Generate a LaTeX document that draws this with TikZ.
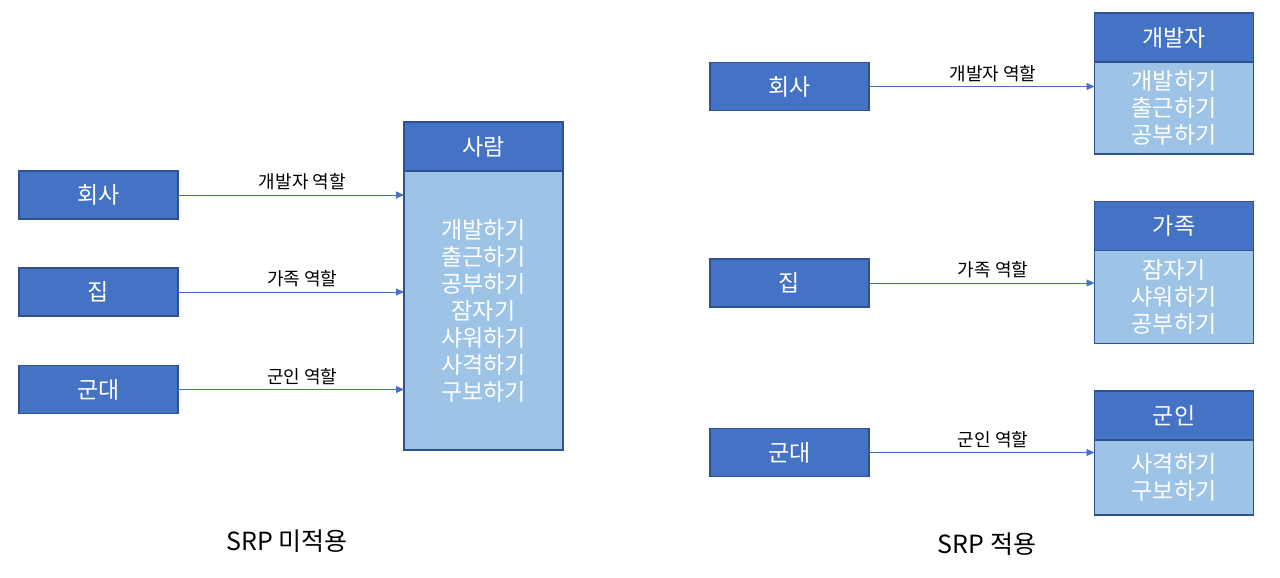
\documentclass[tikz,border=0pt]{standalone}
\usepackage{fontspec}
\setmainfont{Noto Sans CJK KR}
\usetikzlibrary{positioning,arrows.meta}
\definecolor{colhead}{RGB}{68,114,196}
\definecolor{colbody}{RGB}{157,195,230}
\definecolor{colline}{RGB}{47,82,143}
\definecolor{colarrow}{RGB}{68,114,196}
\tikzset{
  srcbox/.style={
    rectangle, fill=colhead, draw=colline, line width=1.3pt,
    minimum width=159pt, minimum height=48pt, inner sep=0pt, outer sep=0pt,
    text=white, font=\fontsize{23}{27}\selectfont
  },
  headbox/.style={srcbox, minimum height=49pt},
  bodybox/.style={
    rectangle, fill=colbody, draw=colline, line width=1.3pt,
    minimum width=159pt, inner sep=0pt, outer sep=0pt, align=center,
    text=white, font=\fontsize{23}{27}\selectfont
  },
  role/.style={draw=colarrow, line width=0.9pt, -{Triangle[length=8pt,width=7pt]}},
  rolelabel/.style={font=\fontsize{18}{20}\selectfont, above=1pt, pos=0.55},
  caption/.style={font=\fontsize{25}{28}\selectfont}
}

\begin{document}
\begin{tikzpicture}[x=1pt,y=-1pt]
  \useasboundingbox (0,0) rectangle (1280,578);

  % SRP not applied
  \foreach \name/\txt/\y in {lhoesa/회사/195,ljip/집/292,lgundae/군대/389.5}
    \node[srcbox] (\name) at (98.5,\y) {\txt};

  \node[headbox] (lsaram) at (483.5,146.5) {사람};
  \node[bodybox, minimum height=279pt, below=0pt of lsaram] (lsarambody)
    {개발하기\\출근하기\\공부하기\\잠자기\\샤워하기\\사격하기\\구보하기};

  \draw[role] (lhoesa.east) -- (lhoesa.east -| lsarambody.west)
    node[rolelabel] {개발자 역할};
  \draw[role] (ljip.east) -- (ljip.east -| lsarambody.west)
    node[rolelabel] {가족 역할};
  \draw[role] (lgundae.east) -- (lgundae.east -| lsarambody.west)
    node[rolelabel] {군인 역할};

  % SRP applied
  \foreach \name/\txt/\y in {rhoesa/회사/86.5,rjip/집/283,rgundae/군대/452.5}
    \node[srcbox] (\name) at (789.5,\y) {\txt};

  \node[headbox] (rdev) at (1174,37.5) {개발자};
  \node[bodybox, minimum height=92pt, below=0pt of rdev] (rdevbody)
    {개발하기\\출근하기\\공부하기};
  \node[headbox] (rfam) at (1174,226) {가족};
  \node[bodybox, minimum height=93pt, below=0pt of rfam] (rfambody)
    {잠자기\\샤워하기\\공부하기};
  \node[headbox] (rsol) at (1174,415.5) {군인};
  \node[bodybox, minimum height=75pt, below=0pt of rsol] (rsolbody)
    {사격하기\\구보하기};

  \draw[role] (rhoesa.east) -- (rhoesa.east -| rdevbody.west)
    node[rolelabel] {개발자 역할};
  \draw[role] (rjip.east) -- (rjip.east -| rfambody.west)
    node[rolelabel] {가족 역할};
  \draw[role] (rgundae.east) -- (rgundae.east -| rsolbody.west)
    node[rolelabel] {군인 역할};

  % The captions
  \node[caption] (capleft) at (287,541) {SRP 미적용};
  \node[caption] (capright) at (987,544) {SRP 적용};
\end{tikzpicture}
\end{document}
